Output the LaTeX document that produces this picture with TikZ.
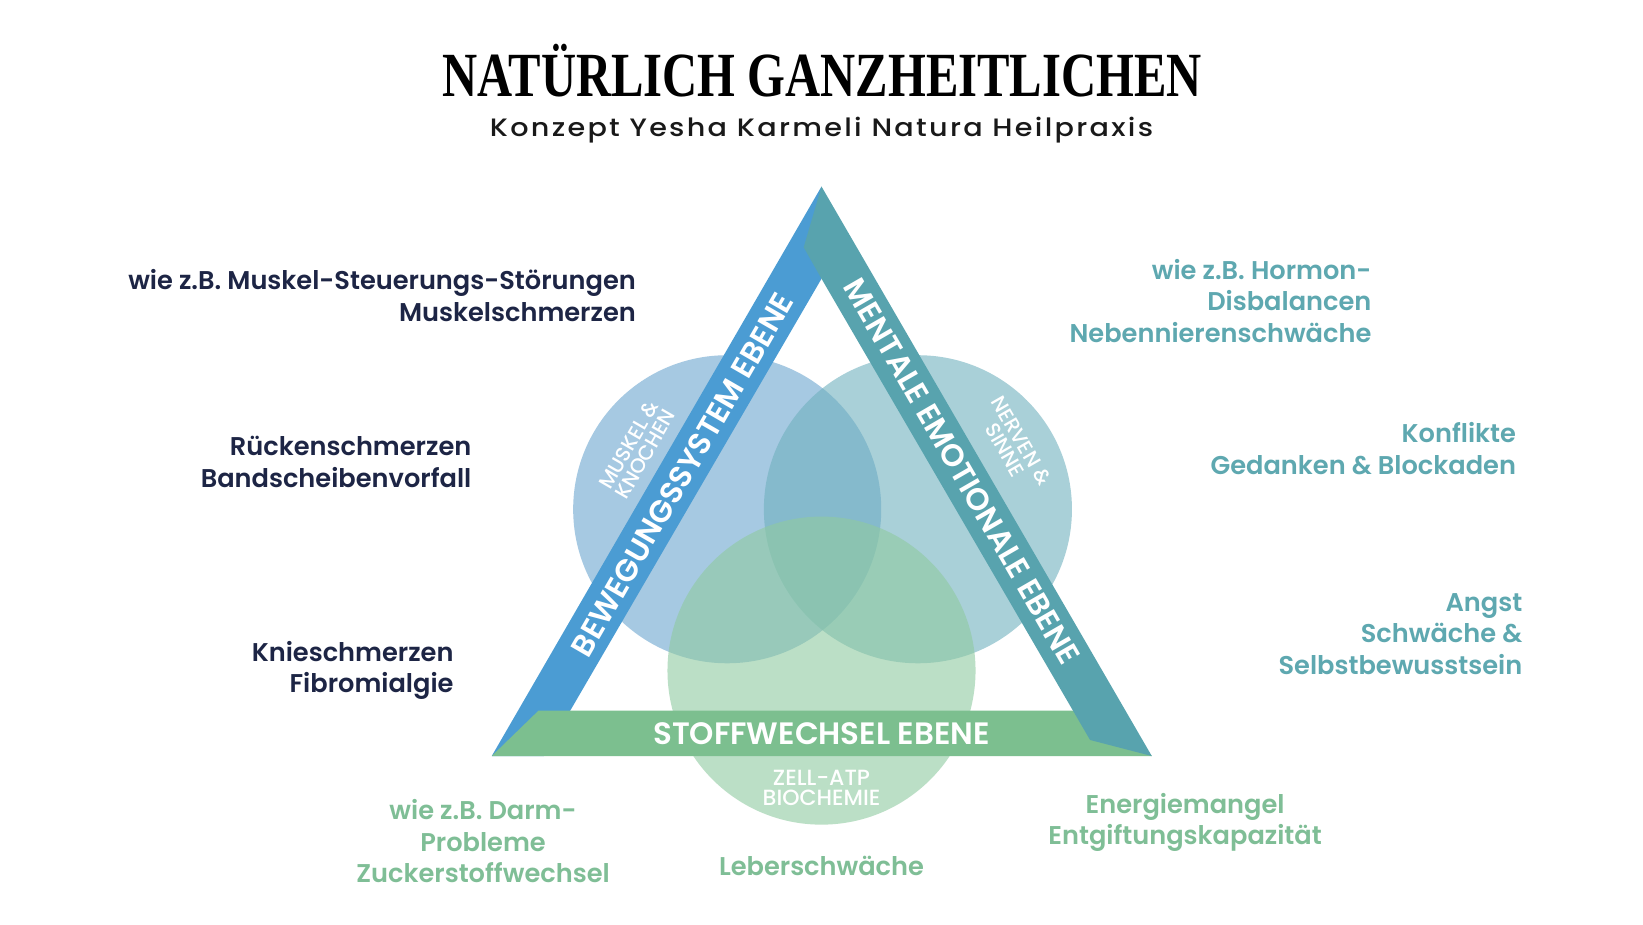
\documentclass[tikz,border=0pt]{standalone}
\usepackage{fontspec}
\usepackage{graphicx}
\setmainfont{Liberation Serif}
\newfontfamily\titlefont{Liberation Serif}
\newfontfamily\popmed{Poppins}[UprightFont=* Medium, BoldFont=* Bold]
\newfontfamily\popsemi{Poppins}[UprightFont=* SemiBold, BoldFont=* Bold]
\definecolor{bandblue}{HTML}{4B9CD3}
\definecolor{bandteal}{HTML}{58A3AE}
\definecolor{bandgreen}{HTML}{7CBF8F}
\definecolor{circblue}{HTML}{6BA5D0}
\definecolor{circteal}{HTML}{70B1BE}
\definecolor{circgreen}{HTML}{8FCAA0}
\definecolor{navytext}{HTML}{1D2545}
\definecolor{tealtext}{HTML}{5EA8B0}
\definecolor{greentext}{HTML}{7FBE96}
\begin{document}
\begin{tikzpicture}[x=1pt,y=-1pt,
  bodytext/.style={inner sep=0pt, font=\popsemi\fontsize{24.5}{30}\selectfont},
  lefttext/.style={bodytext, text=navytext, align=right, anchor=east},
  righttext/.style={bodytext, text=tealtext, align=right, anchor=east},
  bottext/.style={bodytext, text=greentext, align=center},
  circtext/.style={inner sep=0pt, text=white, align=center, font=\popmed\fontsize{19.5}{18}\selectfont},
  bandtext/.style={inner sep=0pt, text=white, font=\popsemi\fontsize{29.5}{29.5}\selectfont},
  circ/.style={fill opacity=0.6}]
\fill[white] (0,0) rectangle (1568,882);
\useasboundingbox (0,0) rectangle (1568,882);

% title
\node[anchor=base, inner sep=0pt] (title) at (784.5,92)
  {\resizebox{725pt}{\height}{\titlefont\bfseries\fontsize{60}{60}\selectfont NATÜRLICH GANZHEITLICHEN}};
\node[anchor=base, inner sep=0pt, text=black!90] (subtitle) at (784,130)
  {\resizebox{633pt}{\height}{\popmed\fontsize{24}{24}\selectfont\addfontfeatures{LetterSpace=8}Konzept Yesha Karmeli Natura Heilpraxis}};

% circles
\fill[circ, circblue] (694,486) circle[radius=147pt];
\fill[circ, circteal] (876,486) circle[radius=147pt];
\fill[circ, circgreen] (784,640) circle[radius=147pt];

\node[circtext, rotate=60] (mk) at (608,429) {MUSKEL \&\\KNOCHEN};
\node[circtext, rotate=-60] (ns) at (967,425) {NERVEN \&\\SINNE};
\node[circtext, font=\popmed\fontsize{21}{19.5}\selectfont] (za) at (784,752) {ZELL-ATP\\BIOCHEMIE};

% bands
\fill[bandblue] (784,178) -- (469.3,721.5) -- (519,721.5) -- (784,266) -- cycle;
\fill[bandgreen] (513.8,678.3) -- (1060,678.3) -- (1099.2,721.5) -- (469.3,721.5) -- cycle;
\fill[bandteal] (784,178) -- (1099.2,721.5) -- (1040.3,706.2) -- (784,266) -- (767,236) -- cycle;

\node[bandtext, rotate=60] (bew) at (651,453) {BEWEGUNGSSYSTEM EBENE};
\node[bandtext, rotate=-60] (men) at (918,450) {MENTALE EMOTIONALE EBENE};
\node[bandtext] (sto) at (784,700) {STOFFWECHSEL EBENE};

% side texts
\node[lefttext] (t1) at (607,282) {wie z.B. Muskel-Steuerungs-Störungen\\Muskelschmerzen};
\node[lefttext] (t2) at (450,441) {Rückenschmerzen\\Bandscheibenvorfall};
\node[lefttext] (t3) at (433,640) {Knieschmerzen\\Fibromialgie};

\node[righttext] (t4) at (1309,287) {wie z.B. Hormon-\\Disbalancen\\Nebennierenschwäche};
\node[righttext] (t5) at (1447,428) {Konflikte\\Gedanken \& Blockaden};
\node[righttext] (t6) at (1453,605) {Angst\\Schwäche \&\\Selbstbewusstsein};

\node[bottext] (t7) at (461,803) {wie z.B. Darm-\\Probleme\\Zuckerstoffwechsel};
\node[bottext] (t8) at (784,826) {Leberschwäche};
\node[bottext] (t9) at (1131,785) {Energiemangel\\Entgiftungskapazität};
\end{tikzpicture}
\end{document}
